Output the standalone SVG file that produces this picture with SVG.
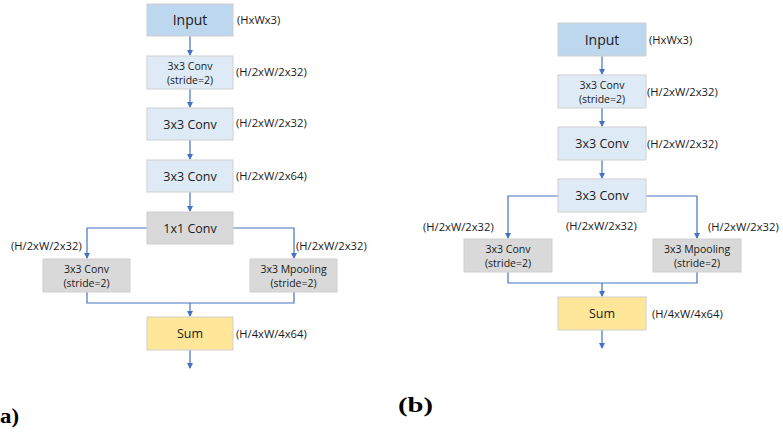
<svg xmlns="http://www.w3.org/2000/svg" width="783" height="438" viewBox="0 0 783 438">
<defs>
<marker id="ah" markerWidth="6" markerHeight="6" refX="5" refY="3" orient="auto" markerUnits="userSpaceOnUse">
<path d="M0,0 L6,3 L0,6 z" fill="#4472C4"/>
</marker>
<style>
.box{stroke:#CFCFCF;stroke-width:1}
.in{fill:#BDD7EE}
.lb{fill:#DEEBF7}
.gr{fill:#D9D9D9}
.sm{fill:#FFE699}
.t{font-family:"Open Sans",sans-serif;fill:#1a1a1a;text-anchor:middle}
.t14{font-size:14px}
.t12{font-size:12.5px}
.t11{font-size:10.5px}
.lab{font-family:"Open Sans",sans-serif;font-size:11.2px;fill:#1a1a1a}
.cap{font-family:"Liberation Serif",serif;font-weight:bold;font-size:22px;fill:#000}
.c{fill:none;stroke:#4472C4;stroke-width:1.2}
</style>
</defs>
<rect width="783" height="438" fill="#fff"/>

<g id="connectors">
<!-- (a) -->
<path class="c" d="M190,36 V55" marker-end="url(#ah)"/>
<path class="c" d="M190,89 V107" marker-end="url(#ah)"/>
<path class="c" d="M190,140 V159" marker-end="url(#ah)"/>
<path class="c" d="M190,192 V211" marker-end="url(#ah)"/>
<path class="c" d="M147,228 H87 V258" marker-end="url(#ah)"/>
<path class="c" d="M233,228 H294 V258" marker-end="url(#ah)"/>
<path class="c" d="M87,292 V303 H294 V292"/>
<path class="c" d="M190,303 V316" marker-end="url(#ah)"/>
<path class="c" d="M190,350 V368" marker-end="url(#ah)"/>
<!-- (b) -->
<path class="c" d="M602,56 V74" marker-end="url(#ah)"/>
<path class="c" d="M602,108 V126" marker-end="url(#ah)"/>
<path class="c" d="M602,160 V178" marker-end="url(#ah)"/>
<path class="c" d="M558,196 H508 V238" marker-end="url(#ah)"/>
<path class="c" d="M646,196 H697 V238" marker-end="url(#ah)"/>
<path class="c" d="M508,272 V283 H697 V272"/>
<path class="c" d="M602,283 V296" marker-end="url(#ah)"/>
<path class="c" d="M602,330 V348" marker-end="url(#ah)"/>
</g>

<!-- (a) nodes -->
<g id="a-input"><rect class="box in" x="147" y="4" width="86" height="32"/><text class="t t14" x="190" y="25">Input</text><text class="lab" x="237" y="24">(HxWx3)</text></g>
<g id="a-conv1"><rect class="box lb" x="147" y="56" width="86" height="33"/><text class="t t11" x="190" y="70">3x3 Conv</text><text class="t t11" x="190" y="84">(stride=2)</text><text class="lab" x="236" y="76">(H/2xW/2x32)</text></g>
<g id="a-conv2"><rect class="box lb" x="147" y="108" width="86" height="32"/><text class="t t12" x="190" y="129">3x3 Conv</text><text class="lab" x="236" y="127">(H/2xW/2x32)</text></g>
<g id="a-conv3"><rect class="box lb" x="147" y="160" width="86" height="32"/><text class="t t12" x="190" y="181">3x3 Conv</text><text class="lab" x="236" y="180">(H/2xW/2x64)</text></g>
<g id="a-conv4"><rect class="box gr" x="147" y="212" width="86" height="32"/><text class="t t12" x="190" y="233">1x1 Conv</text></g>
<g id="a-left"><rect class="box gr" x="43" y="259" width="87" height="33"/><text class="t t11" x="86.5" y="273">3x3 Conv</text><text class="t t11" x="86.5" y="287">(stride=2)</text><text class="lab" x="11" y="250">(H/2xW/2x32)</text></g>
<g id="a-right"><rect class="box gr" x="250" y="259" width="87" height="33"/><text class="t t11" x="293.5" y="273">3x3 Mpooling</text><text class="t t11" x="293.5" y="287">(stride=2)</text><text class="lab" x="296" y="250">(H/2xW/2x32)</text></g>
<g id="a-sum"><rect class="box sm" x="147" y="317" width="86" height="33"/><text class="t t12" x="190" y="338">Sum</text><text class="lab" x="236" y="338">(H/4xW/4x64)</text></g>
<text class="cap" x="0" y="423" textLength="19" lengthAdjust="spacingAndGlyphs">a)</text>

<!-- (b) nodes -->
<g id="b-input"><rect class="box in" x="558" y="23" width="88" height="33"/><text class="t t14" x="602" y="45">Input</text><text class="lab" x="649" y="44">(HxWx3)</text></g>
<g id="b-conv1"><rect class="box lb" x="558" y="75" width="88" height="33"/><text class="t t11" x="602" y="89">3x3 Conv</text><text class="t t11" x="602" y="103">(stride=2)</text><text class="lab" x="647" y="96">(H/2xW/2x32)</text></g>
<g id="b-conv2"><rect class="box lb" x="558" y="127" width="88" height="33"/><text class="t t12" x="602" y="148">3x3 Conv</text><text class="lab" x="647" y="148">(H/2xW/2x32)</text></g>
<g id="b-conv3"><rect class="box lb" x="558" y="179" width="88" height="33"/><text class="t t12" x="602" y="200">3x3 Conv</text><text class="lab" x="566" y="230">(H/2xW/2x32)</text></g>
<g id="b-left"><rect class="box gr" x="464" y="239" width="88" height="33"/><text class="t t11" x="508" y="253">3x3 Conv</text><text class="t t11" x="508" y="267">(stride=2)</text><text class="lab" x="423" y="231">(H/2xW/2x32)</text></g>
<g id="b-right"><rect class="box gr" x="653" y="239" width="88" height="33"/><text class="t t11" x="697" y="253">3x3 Mpooling</text><text class="t t11" x="697" y="267">(stride=2)</text><text class="lab" x="708" y="231">(H/2xW/2x32)</text></g>
<g id="b-sum"><rect class="box sm" x="558" y="297" width="88" height="33"/><text class="t t12" x="602" y="318">Sum</text><text class="lab" x="652" y="318">(H/4xW/4x64)</text></g>
<text class="cap" x="398" y="412" textLength="35" lengthAdjust="spacingAndGlyphs">(b)</text>
</svg>
